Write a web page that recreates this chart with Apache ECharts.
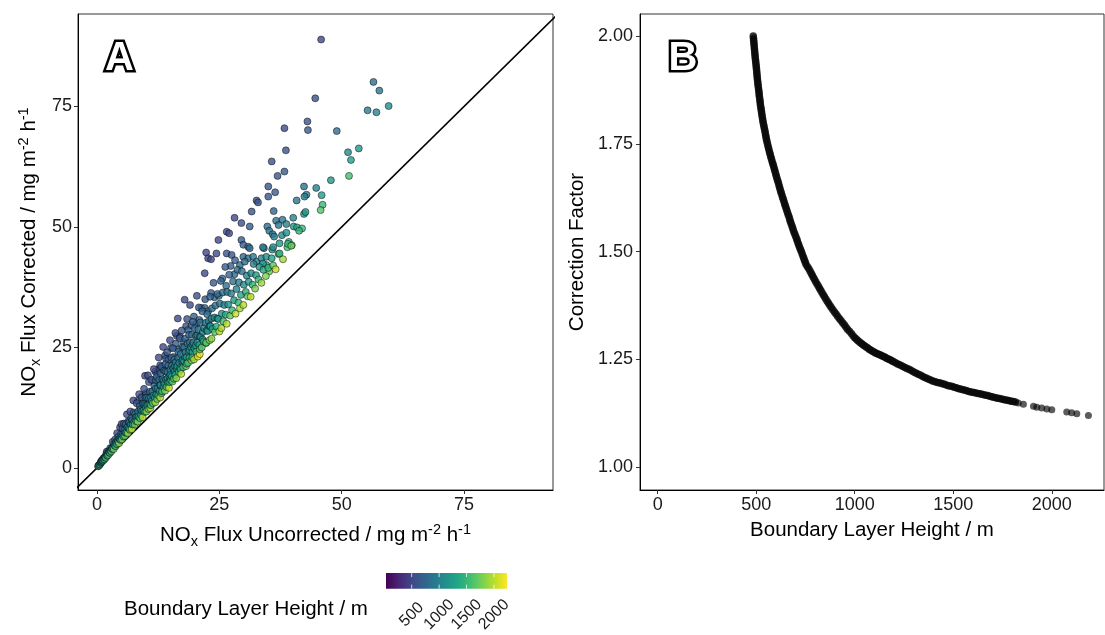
<!DOCTYPE html>
<html><head><meta charset="utf-8">
<script src="https://cdn.jsdelivr.net/npm/echarts@6/dist/echarts.min.js"></script>
<style>html,body{margin:0;padding:0;background:#fff}#c{width:1105px;height:635px}</style>
</head><body><div id="c"></div><script>
// ---------- DATA ----------
// Panel A: [NOx flux uncorrected, NOx flux corrected, boundary layer height]
const fluxUpper = [
[45.8,88.9,498],[56.5,80.1,815],[57.7,78.3,900],[59.6,75.1,1130],[55.3,74.2,930],[57.1,73.8,1030],[44.6,76.7,574],[43.0,71.9,605],[43.1,70.1,634],[38.3,70.5,521],[49.0,69.9,805],[51.3,65.5,1060],[53.5,66.3,1215],[51.9,63.9,1250],[51.5,60.6,1580],[38.6,65.9,583],[35.7,63.6,544],[38.3,61.5,650],[36.9,60.6,623],[47.8,59.7,1180],[35.0,58.4,606],[36.4,57.2,672],[35.0,56.3,647],[32.6,55.5,586],[32.9,55.1,601],[42.3,58.4,865],[44.8,58.1,1005],[42.8,56.7,955],[42.4,56.3,950],[45.9,56.6,1240],[40.8,55.5,897],[46.1,54.6,1510],[45.7,53.5,1620],[42.3,52.7,1195],[42.6,53.1,1195],[36.1,53.3,748],[31.6,53.2,596],[29.5,50.8,573],[31.2,50.1,650],[34.8,50.1,790],[36.6,51.3,840],[37.9,51.5,897],[37.1,50.4,900],[38.7,50.6,990],[40.1,51.9,1015],[40.2,50.1,1195],[40.9,49.9,1295],[41.9,49.7,1500],[41.3,49.2,1465],[35.2,49.2,842],[35.9,48.5,910],[37.8,48.3,1060],[38.7,48.8,1115],[36.2,48.0,953],[37.3,46.6,1180],[39.2,46.9,1420],[39.8,46.2,1720],[38.9,45.8,1580],[34.1,45.6,937],[35.8,45.3,1100],[37.1,44.4,1410],[38.0,43.3,1930],[35.2,40.8,1740],[28.1,51.9,519],[22.3,44.7,485],
[26.5,49.0,519],[27.0,48.7,535],[24.8,47.3,505],[29.5,47.3,652],[29.9,46.3,690],[30.9,45.9,740],[31.2,45.6,767],[22.7,43.5,503],[24.4,44.5,527],[26.5,44.5,600],[27.5,44.2,650],[22.0,40.4,523],[28.2,43.1,705],[29.2,42.1,788],[29.9,43.8,760],[30.9,43.5,828],[31.9,43.8,875],[32.6,42.8,975],[33.6,43.5,1012],[34.6,43.8,1100],[35.7,43.5,1300],[34.6,42.1,1305],[33.9,42.4,1175],[37.3,44.5,1450],[36.0,45.8,1080],[33.9,45.8,910],[39.0,46.5,1470],[39.7,46.1,1700]
];
const fluxBand = [
[0.2,0.3,1200],[0.3,0.5,700],[0.4,0.5,1700],[0.5,0.7,900],[0.6,0.7,1500],[0.7,1.0,800],[0.8,1.3,650],[0.9,1.2,1000],[1.0,1.3,1100],[1.0,1.6,560],[1.1,1.6,750],[1.2,1.5,1300],[1.3,2.0,700],[1.4,1.7,1500],[1.5,2.1,850],[1.5,1.8,1400],[1.6,2.2,900],[1.7,2.3,950],[1.8,2.1,1600],[1.9,3.0,650],[2.0,2.6,1000],[2.0,3.4,560],[2.1,2.5,1400],[2.2,3.0,850],[2.3,2.7,1700],[2.4,3.5,750],[2.5,3.2,1050],[2.6,3.1,1350],[2.7,4.1,700],[2.8,3.6,1000],[2.9,3.4,1600],[3.0,4.1,900],[3.1,3.9,1200],[3.2,5.4,600],[3.3,4.2,1100],[3.4,3.9,1800],
[3.5,5.0,800],[3.6,4.6,1100],[3.7,5.9,650],[3.8,4.5,1600],[3.9,5.3,900],[4.0,4.9,1300],[4.1,7.2,550],[4.2,5.8,850],[4.3,5.4,1200],[4.4,6.5,750],[4.5,5.1,1900],[4.6,6.0,1000],[4.7,8.4,540],[4.8,5.8,1350],[4.9,7.0,800],[5.0,9.1,520],[5.0,6.4,1050],[5.1,5.9,1800],[5.2,8.1,680],[5.3,7.0,950],[5.4,6.5,1350],[5.5,9.2,600],[5.6,7.8,850],[5.7,6.6,1700],[5.8,7.3,1100],[5.9,9.1,700],[6.0,7.4,1250],
[6.1,11.1,530],[6.2,8.4,900],[6.3,7.2,1900],[6.4,9.7,720],[6.5,8.2,1150],[6.6,9.5,800],[6.7,7.9,1500],[6.8,11.7,570],[6.9,9.0,1000],[7.0,10.3,760],[7.1,8.0,2000],[7.2,9.9,880],[7.3,9.0,1250],[7.4,14.0,505],[7.5,11.5,700],[7.6,9.6,1100],[7.7,9.0,1700],[7.8,11.2,800],[7.9,10.5,950],[8.0,9.7,1350],[8.1,13.4,610],[8.2,10.7,1000],[8.3,9.6,1800],[8.4,11.7,850],[8.5,10.6,1200],[8.6,15.3,540],[8.7,12.8,760],[8.8,10.3,1600],[8.9,12.1,900],[9.0,11.0,1300],[9.1,14.6,650],[9.2,11.8,1050],[9.3,10.5,2000],[9.4,13.3,820],[9.5,11.9,1150],[9.6,16.4,580],[9.7,13.2,900],[9.8,19.1,495],[9.8,11.6,1500],[9.9,14.6,750],[10.0,13.0,1000],[10.0,12.5,1150],
[10.1,11.7,1800],[10.2,14.6,800],[10.3,13.0,1100],[10.4,19.2,520],[10.5,12.2,1700],[10.6,14.5,880],[10.7,13.1,1300],[10.8,15.8,760],[10.9,12.4,2000],[11.0,14.6,950],[11.0,13.0,1500],[11.1,18.3,620],[11.2,13.9,1200],[11.3,15.9,830],[11.4,13.4,1600],[11.5,15.0,1000],[11.6,20.5,550],[11.7,17.0,780],[11.8,14.5,1250],[11.9,13.6,1900],[12.0,16.5,870],[12.0,18.2,720],[12.1,15.2,1150],
[12.2,18.9,690],[12.3,14.3,1700],[12.4,16.5,940],[12.5,15.1,1350],[12.6,22.9,530],[12.7,18.2,800],[12.8,15.9,1200],[12.9,14.6,2000],[12.9,17.2,980],[13.0,17.2,960],[13.0,19.6,700],[13.2,21.0,660],[13.2,15.5,1600],[13.3,15.9,1450],[13.4,18.4,880],[13.5,25.1,515],[13.6,16.8,1250],[13.6,18.0,1020],[13.7,20.2,750],[13.8,17.5,1100],[13.9,16.0,1800],[14.0,21.5,700],[14.0,20.0,800],[14.1,18.3,1000],[14.2,16.8,1500],[14.3,24.0,600],[14.4,19.9,860],[14.4,18.6,1120],[14.5,17.7,1300],[14.6,21.2,780],[14.7,16.6,2050],[14.8,19.0,1050],[14.8,17.8,1350],[14.9,26.5,540],[15.0,20.4,900],[15.0,19.3,1150],[15.1,18.2,1400],[15.2,22.8,730],[15.3,19.0,1200],[15.3,21.2,860],[15.4,17.9,1700],[15.5,24.8,650],[15.6,20.6,960],[15.7,18.5,1550],[15.8,22.5,810],[15.9,20.0,1150],[15.9,21.2,980],[16.0,28.0,560],[16.0,19.3,1300],[16.1,21.9,900],[16.2,18.6,1850],[16.3,20.6,1100],[16.4,21.1,1080],[16.5,31.0,505],[16.6,24.1,780],[16.6,22.8,850],[16.7,19.9,1450],[16.8,21.8,1000],[16.9,26.9,660],[17.0,20.7,1300],[17.1,23.6,870],[17.1,20.4,1380],[17.2,19.5,2000],[17.3,28.5,620],[17.4,22.1,1080],[17.5,25.1,800],[17.5,22.4,1100],[17.6,20.9,1500],[17.8,22.1,1200],[17.8,25.0,820],[17.9,34.9,495],[18.0,26.8,740],[18.0,23.0,1180],[18.1,24.0,950],[18.2,21.1,1750],[18.3,23.0,1150],[18.3,21.6,1450],[18.4,30.9,600],[18.5,25.8,850],[18.6,21.8,1600],[18.7,24.0,1050],[18.8,27.6,760],[18.9,22.9,1350],[18.9,24.4,1050],[19.0,33.8,540],[19.0,26.0,860],[19.2,25.0,1000],[19.3,22.3,1800],[19.4,27.6,810],[19.5,24.0,1250],[19.5,25.6,1000],[19.5,22.9,1500],[19.6,30.3,690],[19.7,26.0,960],[19.8,22.5,1950],[19.9,24.8,1200],[20.0,29.0,780],[20.2,27.4,900],[20.2,25.4,1200],[20.3,24.1,1500],[20.4,35.7,560],[20.5,26.0,1100],[20.5,27.5,900],[20.6,23.1,2150],[20.7,28.7,860],[20.8,33.3,650],[20.9,25.5,1300],[21.0,23.6,2150],[21.0,27.2,1030],[21.0,24.6,1550],[21.1,30.2,800],[21.2,27.2,1050],[21.4,25.0,1650],[21.5,32.5,720],[21.6,28.2,980],[21.6,26.6,1250],[21.8,26.2,1400],[21.9,29.0,940],
[22.1,35.0,660],[22.2,30.1,900],[22.3,25.9,1700],[22.3,26.0,1620],[22.4,28.5,1080],[22.5,31.9,820],[22.6,28.4,1150],[22.8,30.4,940],[23.0,26.5,1800],[23.0,29.4,1120],[23.1,35.5,700],[23.2,29.4,1100],[23.3,43.3,495],[23.4,26.8,1860],[23.4,31.0,950],[23.5,33.1,830],[23.6,28.8,1300],[23.8,38.4,640],[24.0,31.2,1000],[24.1,28.2,1650],[24.2,33.7,850],[24.4,29.3,1400],[24.6,36.1,760],[24.6,31.0,1100],[24.8,30.9,1200],[25.0,28.3,2000],[25.1,34.1,900],[25.3,38.8,700],[25.4,29.0,1950],[25.5,32.0,1150],[25.7,36.4,820],[25.8,30.4,1550],[26.0,33.8,1000],[26.2,41.7,660],[26.3,31.8,1350],[26.5,29.9,1990],[26.6,36.5,880],[26.8,33.9,1100],[27.0,40.1,740],[27.2,31.6,1700],[27.4,36.2,960],[27.6,32.7,1500],[27.8,38.7,850],[28.0,34.8,1200],[28.3,32.0,2050],[28.5,37.1,1000],[28.7,41.1,800],[28.9,34.3,1500],[29.0,38.5,950],[29.2,33.1,1900],[29.4,35.9,1300],[29.6,40.8,870],[29.9,33.8,1980],[30.0,38.0,1100],[30.2,42.8,820],[30.4,36.5,1400],[30.6,39.9,980],[30.8,35.6,1750],[31.0,38.6,1200],[31.4,35.5,2000],[31.5,40.4,1050],[31.8,38.0,1450],[32.0,42.3,960],[32.3,37.2,1800],[32.5,40.0,1250],[33.0,39.1,1500],[33.2,41.7,1150],[33.6,38.4,1900],[34.0,41.1,1350],[34.5,39.8,1800],[35.0,41.5,1500],[36.0,42.0,1650],[36.5,41.2,2050]
];
// Panel A: extra low-BLH points in the upper part of the band
const fluxBandUpper = [
[8.3,13.9,600],[8.8,13.0,750],[9.2,14.7,650],[9.9,15.2,700],[10.0,15.5,690],[10.6,17.8,600],[11.4,18.2,650],[11.9,20.0,600],[12.3,19.7,650],[12.6,20.5,630],[12.9,21.3,620],[13.4,20.6,700],[13.9,23.3,600],[14.1,22.6,650],[14.6,22.4,700],[15.1,24.9,620],[15.6,23.0,750],[16.1,25.8,650],[16.3,27.4,600],[16.7,24.6,750],[17.0,27.2,650],[17.7,26.1,750],[18.2,29.4,640],[18.6,28.6,700],[19.3,29.6,700],[19.8,31.4,660],[20.3,29.9,750],[20.9,30.7,760],[21.3,33.2,680],[22.0,33.2,720],[22.7,32.5,800],[23.3,36.3,680],[24.0,35.4,750],[24.9,35.7,800],[25.6,39.3,700],[26.4,37.8,800],[27.3,41.9,700],[28.1,40.2,800]
];
const identityLine = [[-10,-10],[110,110]];
const aTicks = [0,25,50,75];

// Panel B: [boundary layer height, correction factor] - continuous part of the curve
const corrCurve = [
[485,2.000],[486,1.995],[487,1.990],[488,1.985],[489,1.980],[490,1.975],[491,1.970],[492,1.965],[493,1.960],[494,1.955],
[495,1.950],[496.2,1.945],[497.5,1.940],[498.7,1.935],[500,1.930],[501,1.925],[502,1.920],[503,1.915],[504,1.910],[505,1.905],
[506,1.900],[507.2,1.895],[508.5,1.890],[509.7,1.885],[511,1.880],[512.5,1.875],[514,1.870],[515,1.865],[516,1.860],[517.5,1.855],
[519,1.850],[520.2,1.845],[521.5,1.840],[523.2,1.835],[525,1.830],[526.5,1.825],[528,1.820],[529.7,1.815],[531.5,1.810],[533.2,1.805],
[535,1.800],[537.2,1.795],[539.5,1.790],[541.7,1.785],[544,1.780],[546,1.775],[548,1.770],[550,1.765],[552,1.760],[554.5,1.755],
[557,1.750],[559.7,1.745],[562.5,1.740],[565.2,1.735],[568,1.730],[571,1.725],[574,1.720],[577,1.715],[580,1.710],[583.5,1.705],
[587,1.700],[590,1.695],[593,1.690],[596,1.685],[599,1.680],[602,1.675],[605,1.670],[608.5,1.665],[612,1.660],[615,1.655],
[618,1.650],[621,1.645],[624,1.640],[627.5,1.635],[631,1.630],[634.5,1.625],[638,1.620],[641.5,1.615],[645,1.610],[648.5,1.605],
[652,1.600],[655.5,1.595],[659,1.590],[663,1.585],[667,1.580],[670,1.575],[673,1.570],[677,1.565],[681,1.560],[684.5,1.555],
[688,1.550],[692,1.545],[696,1.540],[700.5,1.535],[705,1.530],[708.5,1.525],[712,1.520],[716,1.515],[720,1.510],[724.5,1.505],
[729,1.500],[733,1.495],[737,1.490],[741,1.485],[745,1.480],[749,1.475],[753,1.470],[760,1.465],[767,1.460],[773,1.455],
[779,1.450],[784.5,1.445],[790,1.440],[796,1.435],[802,1.430],[808.5,1.425],[815,1.420],[821,1.415],[827,1.410],[833.5,1.405],
[840,1.400],[846.5,1.395],[853,1.390],[860,1.385],[867,1.380],[874,1.375],[881,1.370],[889,1.365],[897,1.360],[905,1.355],
[913,1.350],[921.5,1.345],[930,1.340],[938.5,1.335],[947,1.330],[955,1.325],[963,1.320],[973,1.315],[983,1.310],[991.5,1.305],
[1000,1.300],[1007.5,1.297],[1015,1.294],[1022.5,1.291],[1030,1.288],[1037.5,1.2855],[1045,1.283],[1052.5,1.2805],[1060,1.278],[1067.5,1.2755],
[1075,1.273],[1082.5,1.271],[1090,1.269],[1097.5,1.267],[1105,1.265],[1112.5,1.2635],[1120,1.262],[1127.5,1.2605],[1135,1.259],[1142.5,1.2575],
[1150,1.256],[1157.5,1.254],[1165,1.252],[1172.5,1.2505],[1180,1.249],[1187.5,1.247],[1195,1.245],[1205,1.2425],[1215,1.240],[1225,1.238],
[1235,1.236],[1245,1.2335],[1255,1.231],[1265,1.229],[1275,1.227],[1285,1.2245],[1295,1.222],[1305,1.2195],[1315,1.217],[1325,1.215],
[1335,1.213],[1345,1.2105],[1355,1.208],[1365,1.206],[1375,1.204],[1385,1.202],[1395,1.200],[1405,1.1985],[1415,1.197],[1425,1.196],
[1435,1.195],[1445,1.1935],[1455,1.192],[1465,1.1905],[1475,1.189],[1485,1.188],[1495,1.187],[1505,1.1855],[1515,1.184],[1525,1.1825],
[1535,1.181],[1545,1.180],[1555,1.179],[1565,1.1775],[1575,1.176],[1585,1.175],[1595,1.174],[1605,1.173],[1615,1.172],[1625,1.171],
[1635,1.170],[1645,1.169],[1655,1.168],[1665,1.167],[1675,1.166],[1685,1.1645],[1695,1.163],[1705,1.162],[1715,1.161],[1725,1.160],
[1735,1.159],[1745,1.158],[1755,1.157],[1765,1.156],[1775,1.155],[1785,1.154],[1795,1.153],[1805,1.152],[1815,1.151]
];
// Panel B: sparse high-BLH points
const corrTail = [
[1830,1.149],[1856,1.146],[1907,1.141],[1924,1.139],[1949,1.137],[1975,1.135],[2000,1.133],[2076,1.128],[2101,1.126],[2127,1.124],[2186,1.120]
];
const bXTicks = [0,500,1000,1500,2000];
const bYTicks = [1.00,1.25,1.50,1.75,2.00];

// Colour scale
const legendRange = [32, 2237];
const legendTicks = [500,1000,1500,2000];
const viridis = ['#440154','#482475','#414487','#355f8d','#2a788e','#21918c','#22a884','#44bf70','#7ad151','#bddf26','#fde725'];

// ---------- CHART ----------
const FONT = '"Liberation Sans", Arial, sans-serif';
const TITLE_SIZE = 20.5;
const chart = echarts.init(document.getElementById('c'), null, {renderer:'canvas'});
const richName = {
  n:{fontSize:TITLE_SIZE, fontFamily:FONT, color:'#000', lineHeight:27, verticalAlign:'middle'},
  sub:{fontSize:14.5, fontFamily:FONT, color:'#000', lineHeight:14, verticalAlign:'bottom'},
  sup:{fontSize:14.5, fontFamily:FONT, color:'#000', lineHeight:14, verticalAlign:'top'}
};
const plain = v => String(v);
const tickLabel = {fontSize:18, color:'#1a1a1a', fontFamily:FONT};
function valAxis(extra){
  return Object.assign({
    type:'value', splitLine:{show:false},
    axisLine:{show:true, onZero:false, lineStyle:{color:'#000', width:1}},
    axisTick:{show:true, length:4, lineStyle:{color:'#333'}},
    nameLocation:'middle',
  }, extra);
}
const option = {
  backgroundColor:'#fff',
  animation:false,
  grid:[
    {left:78, top:14, width:475, height:476, show:true, borderColor:'#333', borderWidth:1},
    {left:640, top:14, width:464, height:476, show:true, borderColor:'#333', borderWidth:1},
    {left:386, top:573, width:121, height:24}
  ],
  xAxis:[
    valAxis({gridIndex:0, min:-3.9, max:93.2,
      axisTick:{show:true, length:4, customValues:aTicks, lineStyle:{color:'#333'}},
      axisLabel:Object.assign({customValues:aTicks, margin:6, formatter:plain}, tickLabel),
      name:'{n|NO}{sub|x}{n| Flux Uncorrected / mg m}{sup|-2}{n| h}{sup|-1}',
      nameGap:32, nameTextStyle:{rich:richName}}),
    valAxis({gridIndex:1, min:-89.8, max:2265,
      axisTick:{show:true, length:4, customValues:bXTicks, lineStyle:{color:'#333'}},
      axisLabel:Object.assign({customValues:bXTicks, margin:6, formatter:plain}, tickLabel),
      name:'Boundary Layer Height / m', nameGap:30,
      nameTextStyle:{fontSize:TITLE_SIZE, fontFamily:FONT, color:'#000'}}),
    {gridIndex:2, type:'value', min:legendRange[0], max:legendRange[1],
      axisLine:{show:false}, axisTick:{show:false}, splitLine:{show:false},
      axisLabel:{customValues:legendTicks, formatter:plain, rotate:45, fontSize:16, color:'#1a1a1a', fontFamily:FONT, margin:26, align:'center', verticalAlign:'middle'}}
  ],
  yAxis:[
    valAxis({gridIndex:0, min:-4.6, max:94.2,
      axisTick:{show:true, length:4, customValues:aTicks, lineStyle:{color:'#333'}},
      axisLabel:Object.assign({customValues:aTicks, margin:6, formatter:plain}, tickLabel),
      name:'{n|NO}{sub|x}{n| Flux Corrected / mg m}{sup|-2}{n| h}{sup|-1}',
      nameGap:35, nameRotate:90, nameTextStyle:{rich:richName}}),
    valAxis({gridIndex:1, min:0.947, max:2.051,
      axisTick:{show:true, length:4, customValues:bYTicks, lineStyle:{color:'#333'}},
      axisLabel:Object.assign({customValues:bYTicks, margin:7, formatter:v=>Number(v).toFixed(2)}, tickLabel),
      name:'Correction Factor', nameGap:52, nameRotate:90,
      nameTextStyle:{fontSize:TITLE_SIZE, fontFamily:FONT, color:'#000'}}),
    {gridIndex:2, type:'value', min:0, max:1, show:false}
  ],
  visualMap:{type:'continuous', show:false, seriesIndex:0, dimension:2,
    min:legendRange[0], max:legendRange[1], inRange:{color:viridis}},
  series:[
    {type:'scatter', xAxisIndex:0, yAxisIndex:0, data:fluxUpper.concat(fluxBandUpper, fluxBand),
      symbolSize:7, z:3,
      itemStyle:{opacity:0.8, borderColor:'#000', borderWidth:0.6}},
    {type:'line', xAxisIndex:0, yAxisIndex:0, data:identityLine, symbol:'none', z:2,
      lineStyle:{color:'#000', width:1.6}, clip:true},
    {type:'scatter', xAxisIndex:1, yAxisIndex:1, data:corrCurve, symbolSize:7.5,
      itemStyle:{color:'#0a0a0a'}},
    {type:'scatter', xAxisIndex:1, yAxisIndex:1, data:corrTail, symbolSize:7,
      itemStyle:{color:'rgba(0,0,0,0.8)'}},
    {type:'custom', xAxisIndex:2, yAxisIndex:2, data:[[legendRange[0], legendRange[1]]],
      renderItem:function(params, api){
        const p0 = api.coord([api.value(0), 0]);
        const p1 = api.coord([api.value(1), 1]);
        const children = [{type:'rect',
          shape:{x:p0[0], y:p1[1], width:p1[0]-p0[0], height:p0[1]-p1[1]},
          style:{fill:new echarts.graphic.LinearGradient(0,0,1,0,
            viridis.map((c,i)=>({offset:i/(viridis.length-1), color:c})))}}];
        legendTicks.forEach(v=>{
          const b = api.coord([v,0]); const t = api.coord([v,1]);
          children.push({type:'line', shape:{x1:b[0], y1:b[1], x2:b[0], y2:b[1]-4}, style:{stroke:'rgba(255,255,255,0.75)', lineWidth:1}});
          children.push({type:'line', shape:{x1:t[0], y1:t[1], x2:t[0], y2:t[1]+4}, style:{stroke:'rgba(255,255,255,0.75)', lineWidth:1}});
        });
        return {type:'group', children:children};
      }}
  ],
  graphic:[
    {type:'text', left:124, top:599, style:{text:'Boundary Layer Height / m', fontSize:TITLE_SIZE, fontFamily:FONT, fill:'#000'}},
    {type:'text', x:119.5, y:59, z:100, style:{text:'A', fontSize:40, fontWeight:'bold', fontFamily:FONT, fill:'#fff', stroke:'#000', lineWidth:5, strokeFirst:true, align:'center', verticalAlign:'middle'}},
    {type:'text', x:683, y:59, z:100, style:{text:'B', fontSize:40, fontWeight:'bold', fontFamily:FONT, fill:'#fff', stroke:'#000', lineWidth:5, strokeFirst:true, align:'center', verticalAlign:'middle'}}
  ]
};
chart.setOption(option);
</script></body></html>
